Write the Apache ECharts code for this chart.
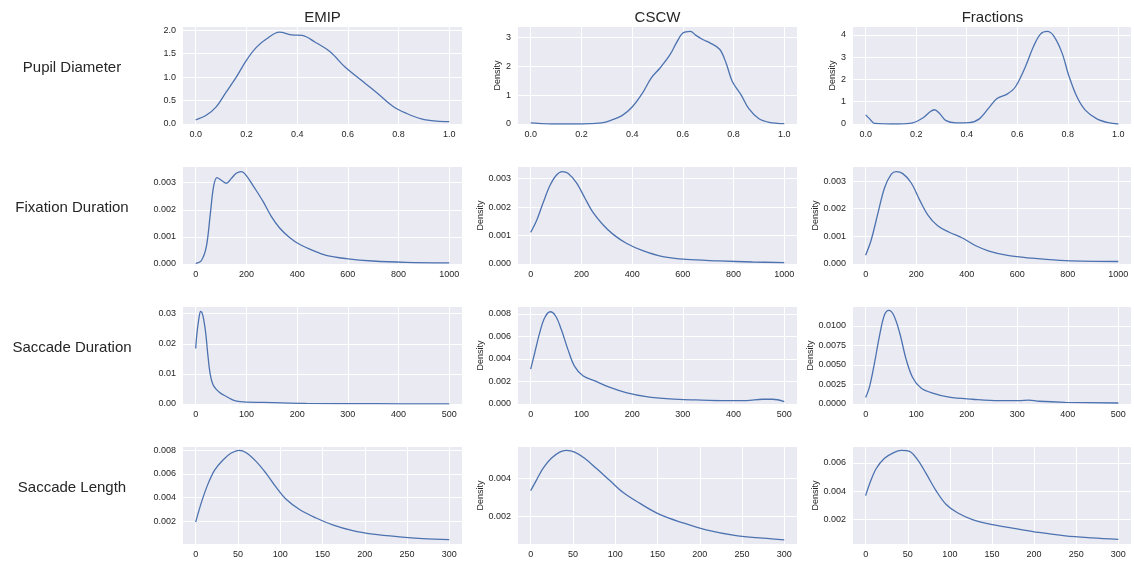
<!DOCTYPE html>
<html>
<head>
<meta charset="utf-8">
<script src="https://cdn.jsdelivr.net/npm/echarts@6/dist/echarts.min.js"></script>
<style>
  html, body { margin: 0; padding: 0; background: #fff; }
  #chart { width: 1134px; height: 563px; }
</style>
</head>
<body>
<div id="chart"></div>
<script>
const colTitles = ['EMIP', 'CSCW', 'Fractions'];
const rowTitles = ['Pupil Diameter', 'Fixation Duration', 'Saccade Duration', 'Saccade Length'];

// x ticks per row
const xMaxes = [1, 1000, 500, 300];
const xSteps = [0.2, 200, 100, 50];
const xDigits = [1, 0, 0, 0];

// y axis per panel (row-major: EMIP, CSCW, Fractions)
const yMins = [0, 0, 0, 0, 0, 0, 0, 0, 0, 0.00009, 0.00051, 0.00029];
const yMaxes = [2.07, 3.36, 4.35, 0.00358, 0.00341, 0.00351, 0.0322, 0.0086, 0.0124, 0.00827, 0.00569, 0.00711];
const ySteps = [0.5, 1, 1, 0.001, 0.001, 0.001, 0.01, 0.002, 0.0025, 0.002, 0.002, 0.002];
const yDigits = [1, 0, 0, 3, 3, 3, 2, 3, 4, 3, 3, 3];

// Pupil diameter densities
const emipPupilX = [0, 0.04, 0.08, 0.12, 0.16, 0.2, 0.24, 0.28, 0.33, 0.38, 0.42, 0.47, 0.53, 0.59, 0.67, 0.72, 0.78, 0.83, 0.89, 0.95, 1.0];
const emipPupilY = [0.09, 0.18, 0.36, 0.68, 1.0, 1.36, 1.64, 1.82, 1.96, 1.9, 1.89, 1.75, 1.54, 1.21, 0.86, 0.64, 0.37, 0.23, 0.11, 0.06, 0.05];
const cscwPupilX = [0, 0.03, 0.08, 0.2, 0.28, 0.32, 0.36, 0.4, 0.44, 0.475, 0.51, 0.55, 0.575, 0.6, 0.63, 0.65, 0.68, 0.705, 0.745, 0.77, 0.795, 0.83, 0.86, 0.9, 0.94, 1.0];
const cscwPupilY = [0.04, 0.02, 0, 0, 0.04, 0.14, 0.29, 0.59, 1.06, 1.59, 1.94, 2.41, 2.82, 3.15, 3.21, 3.08, 2.92, 2.82, 2.59, 2.12, 1.47, 1.0, 0.53, 0.18, 0.06, 0.01];
const fracPupilX = [0, 0.016, 0.035, 0.13, 0.186, 0.226, 0.255, 0.272, 0.291, 0.318, 0.357, 0.41, 0.45, 0.49, 0.52, 0.56, 0.593, 0.633, 0.665, 0.692, 0.718, 0.744, 0.777, 0.803, 0.836, 0.87, 0.915, 0.96, 1.0];
const fracPupilY = [0.41, 0.23, 0.03, 0, 0.05, 0.27, 0.55, 0.64, 0.49, 0.15, 0.05, 0.06, 0.23, 0.76, 1.14, 1.34, 1.67, 2.59, 3.5, 4.03, 4.15, 3.95, 3.19, 2.2, 1.22, 0.61, 0.23, 0.06, 0];

// Fixation duration densities
const emipFixX = [0, 22, 42, 58, 71, 84, 101, 121, 140, 160, 180, 199, 232, 265, 298, 331, 370, 409, 462, 514, 593, 698, 829, 1000];
const emipFixY = [0.00002, 0.00012, 0.00064, 0.00188, 0.00288, 0.00319, 0.00309, 0.00298, 0.00315, 0.00335, 0.00341, 0.00327, 0.00281, 0.00232, 0.00176, 0.00133, 0.00098, 0.00073, 0.0005, 0.00032, 0.0002, 0.00011, 0.00006, 0.00004];
const cscwFixX = [0, 22, 49, 75, 101, 125, 147, 180, 213, 245, 285, 324, 377, 442, 521, 613, 744, 875, 1000];
const cscwFixY = [0.00111, 0.0015, 0.00215, 0.00274, 0.00312, 0.00325, 0.00319, 0.00286, 0.00233, 0.00182, 0.00138, 0.00105, 0.00073, 0.00047, 0.00026, 0.00016, 0.00011, 0.00007, 0.00005];
const fracFixX = [0, 22, 49, 75, 101, 121, 147, 180, 213, 245, 285, 331, 383, 436, 488, 567, 659, 790, 1000];
const fracFixY = [0.00032, 0.00087, 0.00185, 0.00276, 0.00324, 0.00334, 0.00327, 0.00294, 0.00233, 0.00179, 0.00138, 0.00115, 0.00094, 0.00066, 0.00047, 0.0003, 0.00021, 0.00012, 0.00009];

// Saccade duration densities
const emipSacX = [0, 2.6, 6.6, 9.8, 14.4, 19.7, 24.3, 28.9, 35.4, 47.2, 60.4, 76.8, 93, 152, 218, 349, 500];
const emipSacY = [0.0184, 0.0236, 0.0287, 0.0307, 0.0292, 0.0236, 0.0158, 0.0097, 0.006, 0.0038, 0.0025, 0.0011, 0.0007, 0.00045, 0.00022, 0.0001, 0.00002];
const cscwSacX = [0, 7.9, 17.7, 27.6, 38.7, 49.2, 60.4, 73.5, 86.6, 103, 129, 155, 188, 228, 274, 326, 385, 425, 457, 477, 500];
const cscwSacY = [0.0031, 0.00452, 0.0063, 0.00765, 0.00818, 0.0078, 0.0066, 0.00482, 0.00333, 0.0025, 0.002, 0.00149, 0.00101, 0.00065, 0.00045, 0.00036, 0.0003, 0.0003, 0.00042, 0.00042, 0.00021];
const fracSacX = [0, 7.9, 17.7, 27.6, 37.4, 45.9, 55.1, 66.9, 80, 93.2, 109.6, 132.5, 165, 211, 264, 303, 323, 343, 395, 500];
const fracSacY = [0.00083, 0.00226, 0.0053, 0.00878, 0.0114, 0.01196, 0.0114, 0.0092, 0.00574, 0.00335, 0.00204, 0.00139, 0.00087, 0.00061, 0.00043, 0.00043, 0.0005, 0.00035, 0.00022, 0.00013];

// Saccade length densities
const emipLenX = [0, 6.7, 14.6, 22.4, 32.3, 42.1, 51.2, 59.8, 71.7, 83.5, 95.3, 107, 122.8, 142.5, 162, 185.8, 209.4, 241, 268.5, 300];
const emipLenY = [0.00193, 0.00358, 0.00516, 0.00632, 0.00718, 0.00776, 0.00799, 0.00779, 0.00704, 0.00603, 0.00487, 0.00386, 0.003, 0.00228, 0.0017, 0.00121, 0.00092, 0.00069, 0.00055, 0.00046];
const cscwLenX = [0, 6.7, 14.6, 24.4, 34.3, 42.1, 52, 63.8, 77.6, 93.3, 109, 128.7, 152.4, 180, 207.5, 243, 274.4, 300];
const cscwLenY = [0.00336, 0.00391, 0.00455, 0.00509, 0.00542, 0.00551, 0.00542, 0.00509, 0.00455, 0.00391, 0.00327, 0.00269, 0.00209, 0.00164, 0.00127, 0.00096, 0.00082, 0.00073];
const fracLenX = [0, 5.5, 12.6, 22.4, 32.3, 42.1, 52, 61.8, 71.7, 83.5, 95.3, 109, 126.8, 150.4, 178, 205.5, 237, 268.5, 300];
const fracLenY = [0.00369, 0.00465, 0.0056, 0.00632, 0.00668, 0.00687, 0.0068, 0.00621, 0.00525, 0.00405, 0.00309, 0.00249, 0.00201, 0.00165, 0.00137, 0.0011, 0.00086, 0.00072, 0.00062];

const panels = [
  [emipPupilX, emipPupilY], [cscwPupilX, cscwPupilY], [fracPupilX, fracPupilY],
  [emipFixX, emipFixY], [cscwFixX, cscwFixY], [fracFixX, fracFixY],
  [emipSacX, emipSacY], [cscwSacX, cscwSacY], [fracSacX, fracSacY],
  [emipLenX, emipLenY], [cscwLenX, cscwLenY], [fracLenX, fracLenY]
];

// layout
const colLeft = [183, 518, 853];
const rowTop = [27, 167, 307, 447];
const gridW = 279;
const gridH = 97;
const densityGap = [[0, 13, 14], [0, 30, 31], [0, 30, 35], [0, 30, 31]];
const font = '"Liberation Sans", Arial, sans-serif';
const textColor = '#262626';
const lineColor = '#4C72B0';

const isTick = (v, step) => Math.abs(v / step - Math.round(v / step)) < 1e-6;

const grid = [], xAxis = [], yAxis = [], series = [];
panels.forEach(([xs, ys], i) => {
  const r = Math.floor(i / 3), c = i % 3;
  const xPad = xMaxes[r] * 0.05;
  grid.push({
    left: colLeft[c], top: rowTop[r], width: gridW, height: gridH,
    show: true, backgroundColor: '#EAEAF2', borderWidth: 0
  });
  xAxis.push({
    type: 'value', gridIndex: i,
    min: -xPad, max: xMaxes[r] + xPad,
    minInterval: xSteps[r], maxInterval: xSteps[r],
    axisLine: { show: false }, axisTick: { show: false },
    axisLabel: {
      color: textColor, fontSize: 9, fontFamily: font, margin: 6,
      formatter: v => isTick(v, xSteps[r]) ? v.toFixed(xDigits[r]) : ''
    },
    splitLine: { show: true, showMinLine: false, showMaxLine: false, lineStyle: { color: '#fff', width: 1 } }
  });
  yAxis.push({
    type: 'value', gridIndex: i,
    min: yMins[i], max: yMaxes[i],
    minInterval: ySteps[i], maxInterval: ySteps[i],
    name: c > 0 ? 'Density' : '',
    nameLocation: 'middle', nameRotate: 90, nameGap: densityGap[r][c],
    nameTextStyle: { color: textColor, fontSize: 9, fontFamily: font },
    axisLine: { show: false }, axisTick: { show: false },
    axisLabel: {
      color: textColor, fontSize: 9, fontFamily: font, margin: 7,
      formatter: v => isTick(v, ySteps[i]) ? v.toFixed(yDigits[i]) : ''
    },
    splitLine: { show: true, showMinLine: false, showMaxLine: false, lineStyle: { color: '#fff', width: 1 } }
  });
  series.push({
    type: 'line', xAxisIndex: i, yAxisIndex: i,
    data: xs.map((x, k) => [x, ys[k]]),
    smooth: 0.35, showSymbol: false, silent: true,
    lineStyle: { color: lineColor, width: 1.3 }
  });
});

const graphic = [];
colTitles.forEach((t, c) => graphic.push({
  type: 'text', x: colLeft[c] + gridW / 2, y: 18,
  style: { text: t, font: '15px ' + font, fill: textColor, textAlign: 'center', align: 'center', textVerticalAlign: 'middle', verticalAlign: 'middle' }
}));
const rowLabelY = [68, 208, 348, 488];
rowTitles.forEach((t, r) => graphic.push({
  type: 'text', x: 72, y: rowLabelY[r],
  style: { text: t, font: '15px ' + font, fill: textColor, textAlign: 'center', align: 'center', textVerticalAlign: 'middle', verticalAlign: 'middle' }
}));

const chart = echarts.init(document.getElementById('chart'));
chart.setOption({
  animation: false,
  backgroundColor: '#fff',
  grid, xAxis, yAxis, series, graphic
});
</script>
</body>
</html>
